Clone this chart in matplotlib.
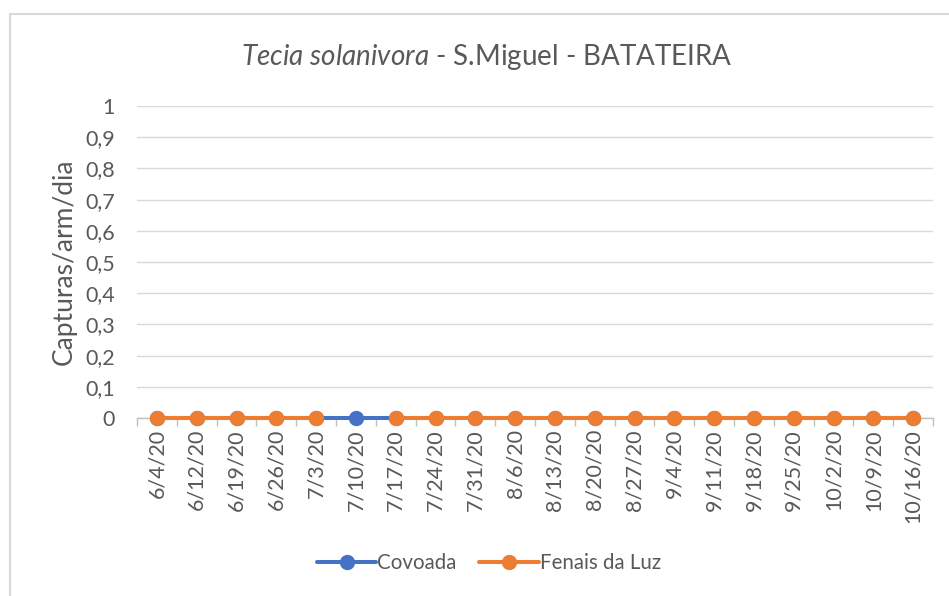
import numpy as np
import matplotlib
matplotlib.use('Agg')
import matplotlib.pyplot as plt
from matplotlib.patches import Rectangle

plt.rcParams['font.family'] = ['Lato', 'DejaVu Sans']
plt.rcParams['mathtext.fontset'] = 'custom'
plt.rcParams['mathtext.it'] = 'Lato:italic'
plt.rcParams['mathtext.rm'] = 'Lato'

# dados
datas = ['6/4/20', '6/12/20', '6/19/20', '6/26/20', '7/3/20', '7/10/20', '7/17/20',
         '7/24/20', '7/31/20', '8/6/20', '8/13/20', '8/20/20', '8/27/20', '9/4/20',
         '9/11/20', '9/18/20', '9/25/20', '10/2/20', '10/9/20', '10/16/20']
covoada = [0, 0, 0, 0, 0, 0, 0, 0, 0, 0, 0, 0, 0, 0, 0, 0, 0, 0, 0, 0]
fenais = [0, 0, 0, 0, 0, np.nan, 0, 0, 0, 0, 0, 0, 0, 0, 0, 0, 0, 0, 0, 0]
yticks = [0, 0.1, 0.2, 0.3, 0.4, 0.5, 0.6, 0.7, 0.8, 0.9, 1]

azul = '#4472C4'
laranja = '#ED7D31'
cinza = '#595959'

fig = plt.figure(figsize=(9.49, 5.96), dpi=100, facecolor='w')
# moldura do grafico
fig.patches.append(Rectangle((9.5 / 949, -0.1), 1.1, 1.1 - 13.5 / 596,
                             transform=fig.transFigure, fill=False,
                             edgecolor='#D9D9D9', linewidth=1.5))

ax = fig.add_axes([137 / 949, 1 - 418 / 596, (933 - 137) / 949, (418 - 106) / 596])
x = np.arange(len(datas))
ax.plot(x, covoada, color=azul, lw=2.9, marker='o', ms=10, label='Covoada',
        solid_capstyle='round', zorder=3, clip_on=False)
ax.plot(x, fenais, color=laranja, lw=2.9, marker='o', ms=10, label='Fenais da Luz',
        solid_capstyle='round', zorder=4, clip_on=False)

ax.set_xlim(-0.5, len(datas) - 0.5)
ax.set_ylim(0, 1)
ax.set_yticks(yticks)
ax.set_yticklabels([('%g' % v).replace('.', ',') for v in yticks])
ax.set_xticks(x)
ax.set_xticklabels(datas, rotation=90)
ax.set_xticks(np.arange(-0.5, len(datas)), minor=True)
ax.tick_params(axis='x', which='major', length=0, pad=8, labelsize=15.5, colors=cinza)
ax.tick_params(axis='x', which='minor', length=6, color='#BFBFBF', width=1)
ax.tick_params(axis='y', length=0, pad=16, labelsize=15.5, colors=cinza)
ax.grid(axis='y', color='#D9D9D9', lw=1)
ax.set_axisbelow(True)
for s in ['top', 'right', 'left']:
    ax.spines[s].set_visible(False)
ax.spines['bottom'].set_color('#BFBFBF')
ax.spines['bottom'].set_linewidth(1)
ax.set_ylabel('Capturas/arm/dia', fontsize=19, color=cinza, labelpad=6)

fig.text(487 / 949, 1 - 57 / 596, r'$\mathit{Tecia\ solanivora}$ - S.Miguel - BATATEIRA',
         ha='center', va='center', fontsize=20, color=cinza)

fig.legend(loc='center', bbox_to_anchor=(489 / 949, 1 - 563 / 596), ncol=2,
           frameon=False, fontsize=14.8, labelcolor=cinza, handlelength=2.9,
           handletextpad=0.05, columnspacing=1.1)

plt.savefig('out.png', dpi=100)
